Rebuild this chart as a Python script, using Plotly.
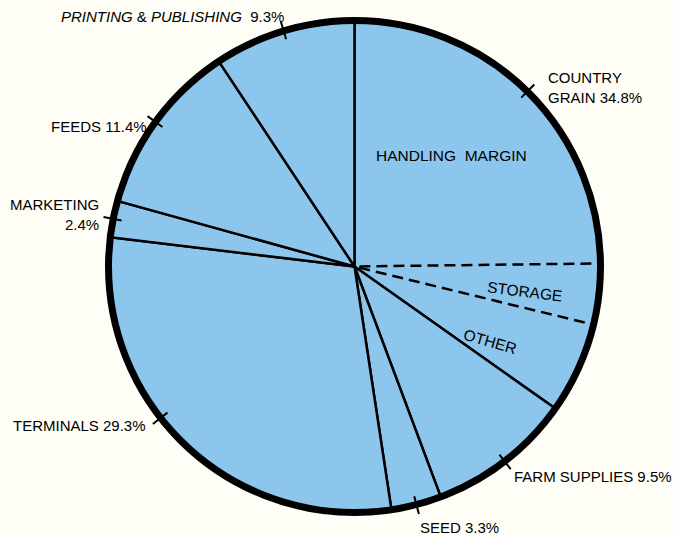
import math
import plotly.graph_objects as go

# Share of revenue by division (percent), clockwise from 12 o'clock
divisions = ["COUNTRY GRAIN", "FARM SUPPLIES", "SEED", "TERMINALS",
             "MARKETING", "FEEDS", "PRINTING & PUBLISHING"]
shares = [34.8, 9.5, 3.3, 29.3, 2.4, 11.4, 9.3]

# Breakdown of the country grain slice
grain_parts = ["HANDLING  MARGIN", "STORAGE", "OTHER"]
grain_shares = [24.8, 4.0, 6.0]

BLUE = "#8dc6ec"
BG = "#fefef6"
W, H = 674, 535
CX, CY, RPX = 354.5, 266.5, 246.0  # polar centre and radius in pixels

# slice geometry in degrees (clockwise from top)
starts, spans = [], []
acc = 0.0
for s in shares:
    starts.append(acc * 3.6)
    spans.append(s * 3.6)
    acc += s
mids = [a + w / 2 for a, w in zip(starts, spans)]

sub_starts, sub_spans = [], []
acc = 0.0
for s in grain_shares:
    sub_starts.append(acc * 3.6)
    sub_spans.append(s * 3.6)
    acc += s
sub_mids = [a + w / 2 for a, w in zip(sub_starts, sub_spans)]

fig = go.Figure()

fig.add_trace(go.Barpolar(
    r=[1] * len(shares), theta=mids, width=spans, base=0,
    marker=dict(color=BLUE, line=dict(color="black", width=2.5)),
    hoverinfo="skip", showlegend=False,
))

# dashed dividers inside the country grain slice
for b in sub_starts[1:]:
    fig.add_trace(go.Scatterpolar(
        r=[0.02, 1], theta=[b, b], mode="lines",
        line=dict(color="black", width=2.5, dash="11px,6px"),
        hoverinfo="skip", showlegend=False,
    ))


def to_paper(theta, r):
    t = math.radians(theta)
    px = CX + math.sin(t) * r * RPX
    py = CY - math.cos(t) * r * RPX
    return px / W, 1 - py / H


shapes = []
# heavy rim
shapes.append(dict(
    type="circle", xref="paper", yref="paper",
    x0=(CX - RPX) / W, x1=(CX + RPX) / W,
    y0=1 - (CY + RPX) / H, y1=1 - (CY - RPX) / H,
    line=dict(color="black", width=7), fillcolor="rgba(0,0,0,0)",
))

# label anchor angles: slice midpoints; country grain points at its
# handling-margin part, terminals is nudged toward its text
tick_angles = list(mids)
tick_angles[0] = sub_mids[0]
tick_angles[3] = 232.0

for a in tick_angles:
    x0, y0 = to_paper(a, 0.965)
    x1, y1 = to_paper(a, 1.04)
    shapes.append(dict(type="line", xref="paper", yref="paper",
                       x0=x0, y0=y0, x1=x1, y1=y1,
                       line=dict(color="black", width=2)))

FONT = dict(family="Liberation Sans, Arial, sans-serif", size=15, color="#000000")

label_text = [
    "COUNTRY<br>GRAIN 34.8%",
    "FARM SUPPLIES 9.5%",
    "SEED 3.3%",
    "TERMINALS 29.3%",
    "MARKETING<br>2.4%",
    "FEEDS 11.4%",
    "<i>PRINTING</i> & <i>PUBLISHING</i>  9.3%",
]
# (xanchor, xshift, yshift, align)
label_place = [
    ("left", 19, 4, "left"),
    ("left", 7, -15, "left"),
    ("left", 2, -23, "left"),
    ("right", -13, -8, "right"),
    ("right", -12, 4, "right"),
    ("right", -6, -5, "right"),
    ("right", 2, 14, "right"),
]

annotations = []
for txt, a, (xa, xs, ys, al) in zip(label_text, tick_angles, label_place):
    x, y = to_paper(a, 1.0)
    annotations.append(dict(
        x=x, y=y, xref="paper", yref="paper", text=txt, showarrow=False,
        xanchor=xa, yanchor="middle", xshift=xs, yshift=ys, align=al,
        font=FONT,
    ))

inner_r = [0.60, 0.70, 0.63]
inner_shift = [-3.3, 2.0, 4.5]
inner_angle = [0, 7, 16]
for txt, a, d, r, ta in zip(grain_parts, sub_mids, inner_shift, inner_r, inner_angle):
    x, y = to_paper(a + d, r)
    annotations.append(dict(
        x=x, y=y, xref="paper", yref="paper", text=txt, showarrow=False,
        xanchor="center", yanchor="middle", textangle=ta,
        font=dict(FONT, size=15.5),
    ))

fig.update_layout(
    width=W, height=H,
    margin=dict(l=0, r=0, t=0, b=0),
    paper_bgcolor=BG, plot_bgcolor=BG,
    polar=dict(
        domain=dict(x=[(CX - RPX) / W, (CX + RPX) / W],
                    y=[1 - (CY + RPX) / H, 1 - (CY - RPX) / H]),
        bgcolor="rgba(0,0,0,0)",
        radialaxis=dict(range=[0, 1], visible=False),
        angularaxis=dict(rotation=90, direction="clockwise", visible=False),
        bargap=0,
    ),
    shapes=shapes,
    annotations=annotations,
    showlegend=False,
)

fig.write_html("out.html")
